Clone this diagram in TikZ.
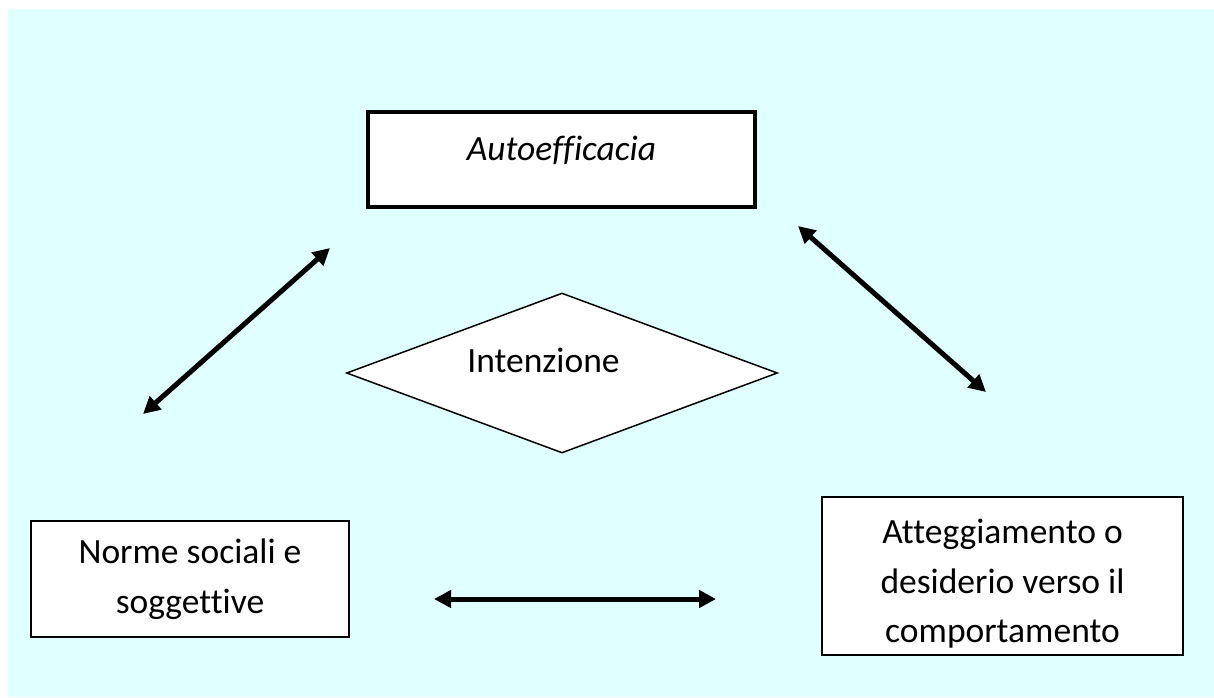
\documentclass[tikz,border=0pt]{standalone}
\usepackage{fontspec}
\setmainfont[Ligatures={NoCommon}]{Carlito}
\usetikzlibrary{arrows.meta,shapes.geometric}
\definecolor{bgcyan}{HTML}{E0FFFF}
\tikzset{
  box/.style={draw=black, fill=white, line width=1.5pt, inner sep=0pt},
  boldbox/.style={draw=black, fill=white, line width=4pt, inner sep=0pt},
  txt/.style={font=\fontsize{35.5}{49.5}\selectfont, align=center, inner sep=0pt},
  dbl/.style={line width=5pt, {Triangle[length=17pt,width=17pt]}-{Triangle[length=17pt,width=17pt]}}
}
\begin{document}
\begin{tikzpicture}[x=1pt,y=-1pt]
\useasboundingbox (0,0) rectangle (1214,697);
\fill[bgcyan] (8,9) rectangle (1214,697);
% boxes
\node[boldbox, minimum width=387pt, minimum height=95pt] (auto) at (561.5,159.5) {};
\node[txt, anchor=base, font=\fontsize{35.5}{49.5}\selectfont\itshape] (autot) at (561.5,160) {Autoefficacia};
\node[box, minimum width=318pt, minimum height=116pt] (norme) at (190,579) {};
\node[txt] (normet) at (190,579) {Norme sociali e\\soggettive};
\node[box, minimum width=361pt, minimum height=158pt] (att) at (1002.5,576) {};
\node[txt] (attt) at (1002.5,584) {Atteggiamento o\\desiderio verso il\\comportamento};
\node[diamond, draw=black, fill=white, line width=1.5pt, minimum width=431pt, minimum height=160pt, inner sep=0pt, aspect=2.69] (int) at (562,373) {};
\node[txt, anchor=base] (intt) at (543.5,372) {Intenzione};
% arrow endpoints
\coordinate (l1) at (143,414);
\coordinate (l2) at (330,248);
\coordinate (r1) at (798,226);
\coordinate (r2) at (986,392);
\coordinate (b1) at (434,599);
\coordinate (b2) at (716,599);
\draw[dbl] (l1) -- (l2);
\draw[dbl] (r1) -- (r2);
\draw[dbl] (b1) -- (b2);
\end{tikzpicture}
\end{document}
